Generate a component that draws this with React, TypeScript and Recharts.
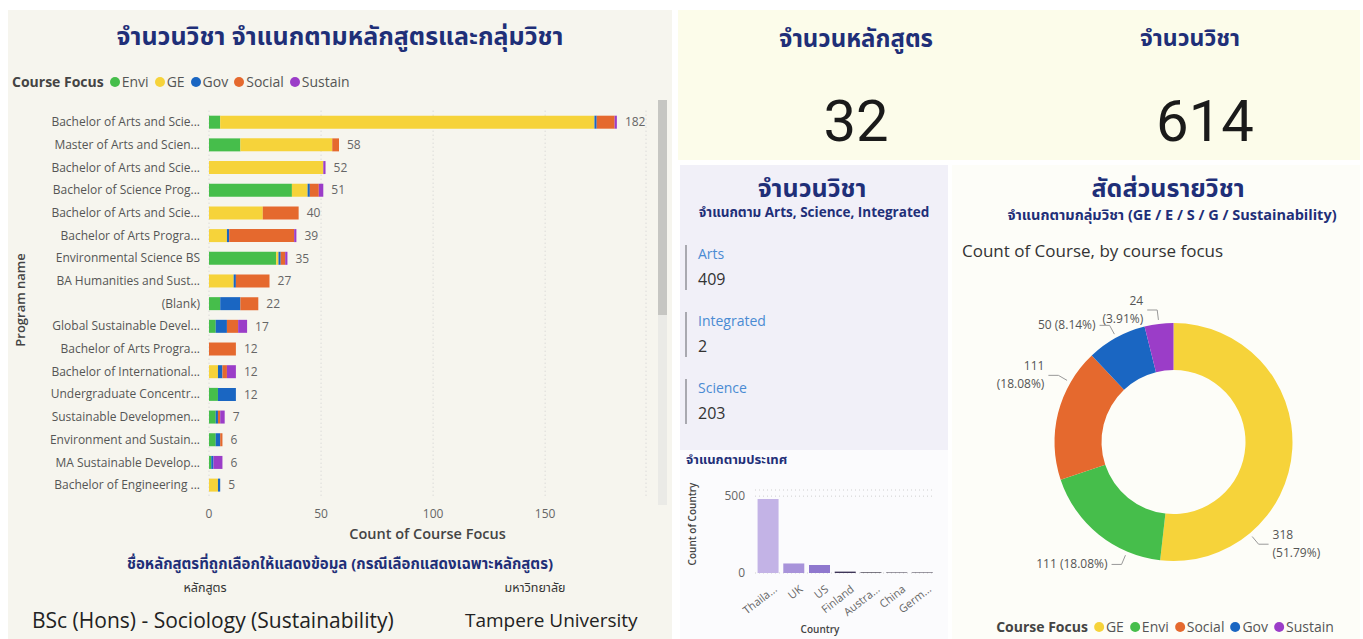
import { BarChart, Bar, XAxis, YAxis, CartesianGrid, LabelList, PieChart, Pie, Cell } from 'recharts';

// program breakdown (top 17 rows visible in the scroll view)
const programs = [
  'Bachelor of Arts and Scie...',
  'Master of Arts and Scien...',
  'Bachelor of Arts and Scie...',
  'Bachelor of Science Prog...',
  'Bachelor of Arts and Scie...',
  'Bachelor of Arts Progra...',
  'Environmental Science BS',
  'BA Humanities and Sust...',
  '(Blank)',
  'Global Sustainable Devel...',
  'Bachelor of Arts Progra...',
  'Bachelor of International...',
  'Undergraduate Concentr...',
  'Sustainable Developmen...',
  'Environment and Sustain...',
  'MA Sustainable Develop...',
  'Bachelor of Engineering ...',
];
const envi = [5, 14, 0, 37, 0, 0, 30, 0, 5, 3, 0, 0, 4, 3, 3, 1, 0];
const ge = [167, 41, 51, 7, 24, 8, 1, 11, 0, 0, 0, 4, 0, 0, 0, 0, 4];
const gov = [1, 0, 0, 1, 0, 1, 1, 1, 9, 5, 0, 2, 8, 1, 2, 1, 1];
const social = [8, 3, 0, 4, 16, 29, 2, 15, 8, 5, 12, 2, 0, 1, 1, 0, 0];
const sustain = [1, 0, 1, 2, 0, 1, 1, 0, 0, 4, 0, 4, 0, 2, 0, 4, 0];
const xTicks = [0, 50, 100, 150];

// donut
const focusNames = ['GE', 'Envi', 'Social', 'Gov', 'Sustain'];
const focusCounts = [318, 111, 111, 50, 24];

// countries
const countries = ['Thaila...', 'UK', 'US', 'Finland', 'Austra...', 'China', 'Germ...'];
const countryCounts = [481, 62, 52, 9, 4, 3, 3];

// kpis
const programCount = 32;
const courseCount = 614;
const trackNames = ['Arts', 'Integrated', 'Science'];
const trackCounts = [409, 2, 203];

const COLORS: Record<string, string> = {
  Envi: '#46BE4B',
  GE: '#F6D33A',
  Gov: '#1A66C2',
  Social: '#E5692E',
  Sustain: '#9B3DC8',
};
const COUNTRY_FILL = ['#C3B3E6', '#A893DA', '#8F78CE', '#3E3558', '#2C2739', '#2C2739', '#2C2739'];
const LABEL_SHIFT: Record<string, number> = { GE: 47, Envi: -16, Social: 16, Gov: 0, Sustain: 0 };
const WRAP_LABEL = new Set(['GE', 'Social', 'Sustain']);

const FONT = '"Open Sans", "Noto Sans", "Noto Sans Thai", sans-serif';
const NAVY = '#1F2F78';

const programRows = programs.map((name, i) => ({
  id: i,
  name,
  Envi: envi[i],
  GE: ge[i],
  Gov: gov[i],
  Social: social[i],
  Sustain: sustain[i],
  total: envi[i] + ge[i] + gov[i] + social[i] + sustain[i],
}));
const focusTotal = focusCounts.reduce((a, b) => a + b, 0);
const focusRows = focusNames.map((name, i) => ({ name, value: focusCounts[i] }));
const countryRows = countries.map((name, i) => ({ name, value: countryCounts[i] }));

const abs = (left: number, top: number, extra: React.CSSProperties = {}): React.CSSProperties => ({
  position: 'absolute',
  left,
  top,
  ...extra,
});

function Dot({ c }: { c: string }) {
  return (
    <span
      style={{ display: 'inline-block', width: 10, height: 10, borderRadius: '50%', background: c, margin: '0 2px 0 6px' }}
    />
  );
}

function FocusLegend({ order }: { order: string[] }) {
  return (
    <span>
      <b style={{ color: '#444' }}>Course Focus</b>
      {order.map((k) => (
        <span key={k} style={{ color: '#555' }}>
          <Dot c={COLORS[k]} />
          {k}
        </span>
      ))}
    </span>
  );
}

function DonutLabel(props: any) {
  const { cx, cy, midAngle, outerRadius, name, value } = props;
  const cw = ((90 - midAngle + LABEL_SHIFT[name]) * Math.PI) / 180;
  const pt = (r: number) => [cx + r * Math.sin(cw), cy - r * Math.cos(cw)];
  const [ax, ay] = pt(outerRadius + 4);
  const [bx, by] = pt(outerRadius + 14);
  const right = bx > cx;
  const ex = bx + (right ? 10 : -10);
  const tx = ex + (right ? 4 : -4);
  const pct = `(${((value / focusTotal) * 100).toFixed(2)}%)`;
  const anchor = right ? 'start' : 'end';
  return (
    <g>
      <polyline points={`${ax},${ay} ${bx},${by} ${ex},${by}`} fill="none" stroke="#999" strokeWidth={1} />
      {WRAP_LABEL.has(name) ? (
        <text x={tx} y={by} textAnchor={anchor} fontSize={12} fill="#555" fontFamily={FONT}>
          <tspan x={tx} dy={-5}>{value}</tspan>
          <tspan x={tx} dy={18}>{pct}</tspan>
        </text>
      ) : (
        <text x={tx} y={by} dy={4} textAnchor={anchor} fontSize={12} fill="#555" fontFamily={FONT}>
          {`${value} ${pct}`}
        </text>
      )}
    </g>
  );
}

function CountryTick(props: any) {
  const { x, y, payload } = props;
  return (
    <text
      x={x + 4}
      y={y + 2}
      transform={`rotate(-38 ${x + 4} ${y + 2})`}
      textAnchor="end"
      dominantBaseline="hanging"
      fontSize={11}
      fill="#666"
      fontFamily={FONT}
    >
      {payload.value}
    </text>
  );
}

export default function App() {
  return (
    <div style={{ position: 'absolute', left: 0, top: 0, width: 1363, height: 639, background: '#fff', fontFamily: FONT, overflow: 'hidden' }}>
      {/* left panel */}
      <div style={abs(8, 10, { width: 664, height: 629, background: '#F6F5EE' })} />
      <div style={abs(8, 18, { width: 664, textAlign: 'center', fontSize: 25, fontWeight: 700, color: NAVY })}>
        จำนวนวิชา จำแนกตามหลักสูตรและกลุ่มวิชา
      </div>
      <div style={abs(12, 72, { fontSize: 14 })}>
        <FocusLegend order={['Envi', 'GE', 'Gov', 'Social', 'Sustain']} />
      </div>
      <div
        style={abs(20, 300, {
          transform: 'translate(-50%, -50%) rotate(-90deg)',
          fontSize: 13,
          fontWeight: 600,
          color: '#444',
          whiteSpace: 'nowrap',
        })}
      >
        Program name
      </div>
      {/* scrollbar */}
      <div style={abs(658, 100, { width: 9, height: 405, background: '#EAEAE6' })} />
      <div style={abs(658, 100, { width: 9, height: 215, background: '#C6C6C2' })} />

      <div style={abs(0, 95)}>
        <BarChart
          width={670}
          height={460}
          data={programRows}
          layout="vertical"
          barCategoryGap="22%"
          margin={{ top: 15.7, right: 24, bottom: 13.7, left: 0 }}
        >
          <CartesianGrid horizontal={false} strokeDasharray="1 3" stroke="#cfcfcf" />
          <XAxis
            type="number"
            domain={[0, 195]}
            ticks={xTicks}
            tickLine={false}
            axisLine={false}
            tickSize={0}
            tickMargin={13}
            height={45}
            tick={{ fontSize: 12, fill: '#666', fontFamily: FONT }}
          />
          <YAxis
            type="category"
            dataKey="id"
            width={209}
            tickLine={false}
            axisLine={false}
            tickSize={0}
            tickMargin={9}
            interval={0}
            tickFormatter={(i: number) => programs[i]}
            tick={{ fontSize: 12, fill: '#555', fontFamily: FONT }}
          />
          <Bar dataKey="Envi" stackId="a" fill={COLORS.Envi} isAnimationActive={false} />
          <Bar dataKey="GE" stackId="a" fill={COLORS.GE} isAnimationActive={false} />
          <Bar dataKey="Gov" stackId="a" fill={COLORS.Gov} isAnimationActive={false} />
          <Bar dataKey="Social" stackId="a" fill={COLORS.Social} isAnimationActive={false} />
          <Bar dataKey="Sustain" stackId="a" fill={COLORS.Sustain} isAnimationActive={false} />
          {/* hairline carrier so every row gets its total label */}
          <Bar dataKey={() => 0.01} stackId="a" fill="transparent" isAnimationActive={false}>
            <LabelList dataKey="total" position="right" offset={8} fontSize={12} fill="#666" fontFamily={FONT} />
          </Bar>
        </BarChart>
      </div>
      <div style={abs(209, 524, { width: 437, textAlign: 'center', fontSize: 14.5, fontWeight: 600, color: '#444' })}>
        Count of Course Focus
      </div>
      <div style={abs(8, 553, { width: 664, textAlign: 'center', fontSize: 15, fontWeight: 700, color: NAVY })}>
        ชื่อหลักสูตรที่ถูกเลือกให้แสดงข้อมูล (กรณีเลือกแสดงเฉพาะหลักสูตร)
      </div>
      <div style={abs(205, 579, { transform: 'translateX(-50%)', fontSize: 12.5, color: '#333' })}>หลักสูตร</div>
      <div style={abs(535, 579, { transform: 'translateX(-50%)', fontSize: 12.5, color: '#333' })}>มหาวิทยาลัย</div>
      <div style={abs(32, 606, { fontSize: 21, color: '#222' })}>BSc (Hons) - Sociology (Sustainability)</div>
      <div style={abs(465, 607, { fontSize: 19, color: '#222' })}>Tampere University</div>

      {/* KPI strip */}
      <div style={abs(678, 10, { width: 682, height: 150, background: '#FCFCEA' })} />
      <div style={abs(856, 21, { transform: 'translateX(-50%)', fontSize: 24, fontWeight: 700, color: NAVY, whiteSpace: 'nowrap' })}>
        จำนวนหลักสูตร
      </div>
      <div style={abs(1190, 21, { transform: 'translateX(-50%)', fontSize: 23, fontWeight: 700, color: NAVY, whiteSpace: 'nowrap' })}>
        จำนวนวิชา
      </div>
      <div style={abs(856, 88, { transform: 'translateX(-50%)', fontSize: 58, fontFamily: 'Roboto, sans-serif', color: '#1a1a1a', lineHeight: '66px' })}>
        {programCount}
      </div>
      <div style={abs(1205, 88, { transform: 'translateX(-50%)', fontSize: 58, fontFamily: 'Roboto, sans-serif', color: '#1a1a1a', lineHeight: '66px' })}>
        {courseCount}
      </div>

      {/* track card */}
      <div style={abs(680, 165, { width: 268, height: 285, background: '#F1F0F8' })} />
      <div style={abs(680, 170, { width: 264, textAlign: 'center', fontSize: 25, fontWeight: 700, color: NAVY })}>จำนวนวิชา</div>
      <div style={abs(680, 203, { width: 268, textAlign: 'center', fontSize: 13.5, fontWeight: 700, color: NAVY, whiteSpace: 'nowrap' })}>
        จำแนกตาม Arts, Science, Integrated
      </div>
      {trackNames.map((t, i) => (
        <div key={t}>
          <div style={abs(685, 245 + i * 67, { width: 2, height: 45, background: '#A9A9B0' })} />
          <div style={abs(698, 244 + i * 67, { fontSize: 14, color: '#4A8BD3', fontWeight: 500 })}>{t}</div>
          <div style={abs(698, 268 + i * 67, { fontSize: 16, color: '#333' })}>{trackCounts[i]}</div>
        </div>
      ))}

      {/* country chart */}
      <div style={abs(680, 450, { width: 268, height: 189, background: '#FBFBFD' })} />
      <div style={abs(686, 450, { fontSize: 13, fontWeight: 700, color: NAVY })}>จำแนกตามประเทศ</div>
      <div
        style={abs(692, 524, {
          transform: 'translate(-50%, -50%) rotate(-90deg)',
          fontSize: 10,
          fontWeight: 600,
          color: '#444',
          whiteSpace: 'nowrap',
        })}
      >
        Count of Country
      </div>
      <div style={abs(680, 480)}>
        <BarChart width={268} height={159} data={countryRows} barCategoryGap="10%" margin={{ top: 10, right: 13, bottom: 0, left: 0 }}>
          <CartesianGrid vertical={false} strokeDasharray="1 3" stroke="#cfcfcf" />
          <XAxis dataKey="name" interval={0} tickLine={false} axisLine={false} height={66} tick={<CountryTick />} />
          <YAxis
            domain={[0, 540]}
            ticks={[0, 500]}
            width={75}
            tickLine={false}
            axisLine={false}
            tickSize={0}
            tickMargin={10}
            tick={{ fontSize: 12, fill: '#666', fontFamily: FONT }}
          />
          <Bar dataKey="value" isAnimationActive={false}>
            {countryRows.map((r, i) => (
              <Cell key={r.name} fill={COUNTRY_FILL[i]} />
            ))}
          </Bar>
        </BarChart>
      </div>
      <div style={abs(820, 622, { transform: 'translateX(-50%)', fontSize: 10, fontWeight: 600, color: '#444' })}>Country</div>

      {/* donut panel */}
      <div style={abs(952, 165, { width: 408, height: 474, background: '#FDFDF8' })} />
      <div style={abs(1168, 170, { transform: 'translateX(-50%)', fontSize: 25, fontWeight: 700, color: NAVY, whiteSpace: 'nowrap' })}>
        สัดส่วนรายวิชา
      </div>
      <div style={abs(1172, 205, { transform: 'translateX(-50%)', fontSize: 14.5, fontWeight: 700, color: NAVY, whiteSpace: 'nowrap' })}>
        จำแนกตามกลุ่มวิชา (GE / E / S / G / Sustainability)
      </div>
      <div style={abs(962, 239, { fontSize: 17, color: '#333' })}>Count of Course, by course focus</div>
      <div style={abs(952, 260)}>
        <PieChart width={408} height={360}>
          <Pie
            data={focusRows}
            dataKey="value"
            nameKey="name"
            cx={216.5}
            cy={177}
            innerRadius={72}
            outerRadius={119}
            startAngle={90}
            endAngle={-270}
            stroke="none"
            label={DonutLabel}
            labelLine={false}
            isAnimationActive={false}
          >
            {focusRows.map((r) => (
              <Cell key={r.name} fill={COLORS[r.name]} />
            ))}
          </Pie>
        </PieChart>
      </div>
      <div style={abs(1165, 617, { transform: 'translateX(-50%)', fontSize: 14, whiteSpace: 'nowrap' })}>
        <FocusLegend order={['GE', 'Envi', 'Social', 'Gov', 'Sustain']} />
      </div>
    </div>
  );
}
